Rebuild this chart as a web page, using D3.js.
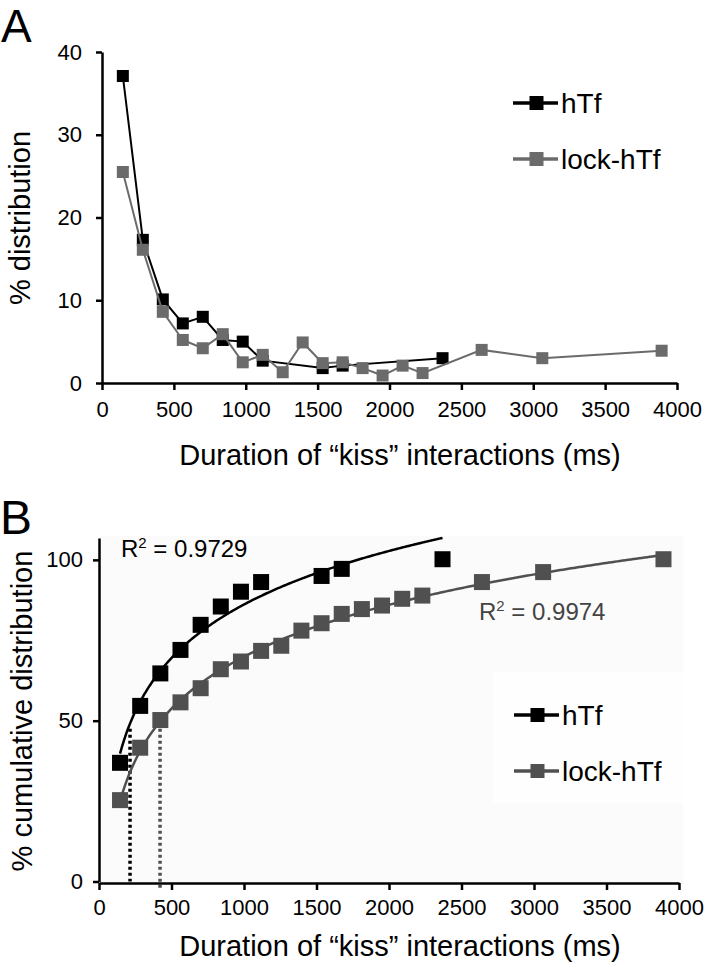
<!DOCTYPE html>
<html>
<head>
<meta charset="utf-8">
<script src="https://cdn.jsdelivr.net/npm/d3@7"></script>
<style>
  html, body { margin: 0; padding: 0; background: #fff; }
  svg { display: block; }
  text { font-family: "Liberation Sans", Arial, sans-serif; }
</style>
</head>
<body>
<div id="chart"></div>
<script>
// ---------------- DATA ----------------
// Panel A: % distribution by duration bin (ms)
const durA_hTf   = [145, 284, 423, 562, 701, 840, 979, 1118, 1535, 1674, 2369];
const pctA_hTf   = [37.1, 17.3, 10.1, 7.2, 8.0, 5.2, 5.0, 2.7, 1.8, 2.1, 3.0];
const durA_lock  = [145, 284, 423, 562, 701, 840, 979, 1118, 1257, 1396, 1535, 1674, 1813, 1952, 2091, 2230, 2641, 3063, 3893];
const pctA_lock  = [25.5, 16.1, 8.6, 5.2, 4.2, 5.9, 2.5, 3.4, 1.3, 4.9, 2.4, 2.5, 1.8, 0.9, 2.1, 1.2, 4.0, 3.0, 3.9];
// Panel B: % cumulative distribution
const durB_hTf   = [145, 284, 423, 562, 701, 840, 979, 1118, 1535, 1674, 2369];
const cumB_hTf   = [36.9, 54.6, 64.7, 72.0, 79.8, 85.5, 90.1, 93.1, 95.0, 97.2, 100.2];
const durB_lock  = [145, 284, 423, 562, 701, 840, 979, 1118, 1257, 1396, 1535, 1674, 1813, 1952, 2091, 2230, 2641, 3063, 3893];
const cumB_lock  = [25.3, 41.6, 50.2, 55.7, 60.1, 66.0, 68.4, 71.7, 73.3, 78.0, 80.3, 83.2, 84.7, 85.8, 87.9, 88.9, 93.1, 96.2, 100.2];
// Half-time markers (ms at 50 %)
const halfTimes  = [214, 421];
const halfLevel  = 50;
const r2Labels   = ["0.9729", "0.9974"];
const seriesNames = ["hTf", "lock-hTf"];
const xTicks     = [0, 500, 1000, 1500, 2000, 2500, 3000, 3500, 4000];
const yTicksA    = [0, 10, 20, 30, 40];
const yTicksB    = [0, 50, 100];
const xTitle     = "Duration of \u201ckiss\u201d interactions (ms)";

// ---------------- SETUP ----------------
const W = 717, H = 972;
const svg = d3.select("#chart").append("svg").attr("width", W).attr("height", H);
const FONT = "Liberation Sans, Arial, sans-serif";
const BLACK = "#000", GREY_A = "#6b6b6b", GREY_B = "#505050";

function styleAxis(g, fs) {
  g.select(".domain").attr("stroke", "#000").attr("stroke-width", 2.5);
  g.selectAll(".tick line").attr("stroke", "#000").attr("stroke-width", 2.5);
  g.selectAll(".tick text").attr("fill", "#000").style("font-size", fs + "px").style("font-family", FONT);
}

function squares(g, xs, ys, x, y, size, color) {
  g.selectAll(null).data(xs.map((d, i) => [d, ys[i]])).enter().append("rect")
    .attr("x", d => x(d[0]) - size / 2).attr("y", d => y(d[1]) - size / 2)
    .attr("width", size).attr("height", size).attr("fill", color);
}

function legend(g, x0, yLine, color, label, sq) {
  g.append("line").attr("x1", x0).attr("x2", x0 + 45).attr("y1", yLine).attr("y2", yLine)
    .attr("stroke", color).attr("stroke-width", 3.5);
  g.append("rect").attr("x", x0 + 23.5 - sq / 2).attr("y", yLine - sq / 2).attr("width", sq).attr("height", sq).attr("fill", color);
  g.append("text").attr("x", x0 + 48).attr("y", yLine + 10).attr("fill", "#000")
    .style("font-size", "28px").text(label);
}

// ---------------- PANEL A ----------------
const xA = d3.scaleLinear().domain([0, 4000]).range([102, 677]);
const yA = d3.scaleLinear().domain([0, 40]).range([383, 52]);
const gA = svg.append("g");

gA.append("text").attr("x", 1).attr("y", 42).style("font-size", "46px").attr("fill", "#000").text("A");

gA.append("g").attr("transform", "translate(0,383)")
  .call(d3.axisBottom(xA).tickValues(xTicks).tickSize(7).tickSizeOuter(0).tickPadding(11).tickFormat(d3.format("d")))
  .call(g => styleAxis(g, 22));
gA.append("g").attr("transform", "translate(102,0)")
  .call(d3.axisLeft(yA).tickValues(yTicksA).tickSize(6).tickSizeOuter(0).tickPadding(14))
  .call(g => styleAxis(g, 22));

gA.append("text").attr("x", 400).attr("y", 465).attr("text-anchor", "middle")
  .style("font-size", "29px").text(xTitle);
gA.append("text").attr("transform", "translate(30,218) rotate(-90)").attr("text-anchor", "middle")
  .style("font-size", "29px").text("% distribution");

const lineA = d3.line().x(d => xA(d[0])).y(d => yA(d[1]));
gA.append("path").datum(durA_hTf.map((d, i) => [d, pctA_hTf[i]])).attr("d", lineA)
  .attr("fill", "none").attr("stroke", BLACK).attr("stroke-width", 2);
squares(gA, durA_hTf, pctA_hTf, xA, yA, 12, BLACK);
gA.append("path").datum(durA_lock.map((d, i) => [d, pctA_lock[i]])).attr("d", lineA)
  .attr("fill", "none").attr("stroke", GREY_A).attr("stroke-width", 2);
squares(gA, durA_lock, pctA_lock, xA, yA, 12, GREY_A);

legend(gA, 513, 103, BLACK, seriesNames[0], 14);
legend(gA, 513, 159, GREY_A, seriesNames[1], 14);

// ---------------- PANEL B ----------------
const xB = d3.scaleLinear().domain([0, 4000]).range([99, 679]);
const yB = d3.scaleLinear().domain([0, 106.8]).range([881.5, 538]);
const gB = svg.append("g");

// faint plot-area background
gB.append("rect").attr("x", 99).attr("y", 536).attr("width", 584).attr("height", 346).attr("fill", "#fbfbfb");
gB.append("rect").attr("x", 493).attr("y", 672).attr("width", 190).attr("height", 131).attr("fill", "#fefefe");

gB.append("text").attr("x", 0).attr("y", 534).style("font-size", "48px").attr("fill", "#000").text("B");

// log fits computed from data
function logFit(xs, ys) {
  const lx = xs.map(Math.log);
  const mx = d3.mean(lx), my = d3.mean(ys);
  let sxy = 0, sxx = 0;
  lx.forEach((v, i) => { sxy += (v - mx) * (ys[i] - my); sxx += (v - mx) * (v - mx); });
  const a = sxy / sxx, b = my - a * mx;
  return x => a * Math.log(x) + b;
}
function fitCurve(xs, ys, color, w) {
  const f = logFit(xs, ys);
  const x0 = d3.min(xs), x1 = d3.max(xs);
  const pts = d3.range(0, 201).map(i => { const x = x0 + (x1 - x0) * i / 200; return [x, f(x)]; });
  gB.append("path").datum(pts).attr("d", d3.line().x(d => xB(d[0])).y(d => yB(d[1])))
    .attr("fill", "none").attr("stroke", color).attr("stroke-width", w);
}

// dotted half-time lines
[BLACK, GREY_B].forEach((c, i) => {
  gB.append("line").attr("x1", xB(halfTimes[i])).attr("x2", xB(halfTimes[i]))
    .attr("y1", yB(halfLevel) + 8).attr("y2", i === 0 ? yB(0) : yB(0) + 8)
    .attr("stroke", c).attr("stroke-width", 3.5).attr("stroke-dasharray", "3,3");
});

fitCurve(durB_hTf, cumB_hTf, BLACK, 2.5);
squares(gB, durB_hTf, cumB_hTf, xB, yB, 16, BLACK);
fitCurve(durB_lock, cumB_lock, GREY_B, 2.5);
squares(gB, durB_lock, cumB_lock, xB, yB, 16, GREY_B);

gB.append("g").attr("transform", "translate(0,883)")
  .call(d3.axisBottom(xB).tickValues(xTicks).tickSize(7).tickSizeOuter(0).tickPadding(9).tickFormat(d3.format("d")))
  .call(g => styleAxis(g, 22));
gB.append("g").attr("transform", "translate(99,0)")
  .call(d3.axisLeft(yB).tickValues(yTicksB).tickSize(6).tickSizeOuter(0).tickPadding(10))
  .call(g => styleAxis(g, 22));

gB.append("text").attr("x", 400).attr("y", 956).attr("text-anchor", "middle")
  .style("font-size", "29px").text(xTitle);
gB.append("text").attr("transform", "translate(32,711) rotate(-90)").attr("text-anchor", "middle")
  .style("font-size", "29px").text("% cumulative distribution");

// R² labels
function r2(x, y, color, val) {
  const t = gB.append("text").attr("x", x).attr("y", y).attr("fill", color).style("font-size", "24px");
  t.append("tspan").text("R");
  t.append("tspan").attr("dy", -9).style("font-size", "15px").text("2");
  t.append("tspan").attr("dy", 9).text(" = " + val);
}
r2(121, 557, BLACK, r2Labels[0]);
r2(479, 620, "#444", r2Labels[1]);

legend(gB, 514, 715, BLACK, seriesNames[0], 14);
legend(gB, 514, 771, GREY_B, seriesNames[1], 14);
</script>
</body>
</html>
